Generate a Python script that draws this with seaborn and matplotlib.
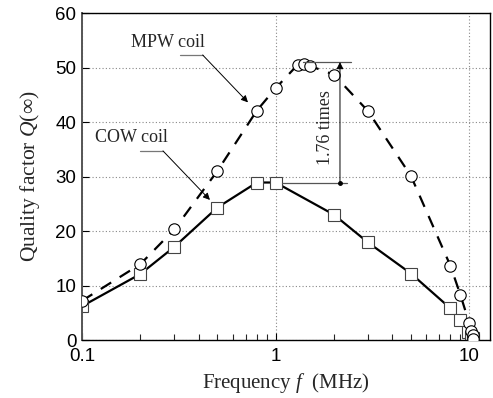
import numpy as np
import pandas as pd
import seaborn as sns
import matplotlib.pyplot as plt
import matplotlib.ticker as mtick

freq_mpw = [0.1, 0.2, 0.3, 0.5, 0.8, 1.0, 1.3, 1.4, 1.5, 2.0, 3.0, 5.0, 8.0, 9.0, 10.0, 10.2, 10.4, 10.5]
q_mpw = [7.2, 13.9, 20.3, 31.0, 42.1, 46.2, 50.5, 50.7, 50.3, 48.7, 42.0, 30.1, 13.6, 8.3, 3.1, 1.6, 0.9, 0.2]

freq_cow = [0.1, 0.2, 0.3, 0.5, 0.8, 1.0, 2.0, 3.0, 5.0, 8.0, 9.0, 9.9, 10.2, 10.4, 10.5]
q_cow = [6.2, 12.1, 17.1, 24.3, 28.9, 28.9, 23.0, 17.9, 12.2, 5.8, 3.7, 1.5, 0.6, 0.3, 0.0]

y_ticks = [0, 10, 20, 30, 40, 50, 60]
x_ticks = [0.1, 1, 10]
x_ticklabels = ["0.1", "1", "10"]

peak_mpw = 51.0
peak_cow = 28.9
ratio_label = "1.76 times"

df_mpw = pd.DataFrame({"f": freq_mpw, "Q": q_mpw})
df_cow = pd.DataFrame({"f": freq_cow, "Q": q_cow})

sns.set_style("ticks")
plt.rcParams["font.family"] = ["Liberation Sans", "DejaVu Sans"]
plt.rcParams["mathtext.fontset"] = "custom"
plt.rcParams["mathtext.rm"] = "Liberation Serif"
plt.rcParams["mathtext.it"] = "Liberation Serif:italic"

fig = plt.figure(figsize=(4.93, 3.98), dpi=100)
ax = fig.add_axes([0.1663, 0.1457, 0.8276, 0.8216])

sns.lineplot(data=df_mpw, x="f", y="Q", ax=ax, color="black", linewidth=1.6,
             linestyle=(0, (5.5, 4.5)), marker="o", markersize=8.2, markerfacecolor="white",
             markeredgecolor="black", markeredgewidth=0.8, zorder=3)
sns.lineplot(data=df_cow, x="f", y="Q", ax=ax, color="black", linewidth=1.6,
             marker="s", markersize=8.2, markerfacecolor="white",
             markeredgecolor="#444444", markeredgewidth=0.8, zorder=2)

ax.set_xscale("log")
ax.set_xlim(0.1, 12.8)
ax.set_ylim(0, 60)
ax.set_yticks(y_ticks)
ax.set_xticks(x_ticks)
ax.set_xticklabels(x_ticklabels)
ax.xaxis.set_minor_locator(mtick.LogLocator(base=10, subs=np.arange(2, 10)))
ax.xaxis.set_minor_formatter(mtick.NullFormatter())
ax.tick_params(axis="both", which="major", direction="in", length=5, width=0.8,
               labelsize=13.5, colors="black")
ax.tick_params(axis="x", which="major", pad=6)
ax.tick_params(axis="y", which="major", pad=4)
ax.tick_params(axis="x", which="minor", direction="in", length=4, width=0.8)
ax.grid(True, which="major", color="#888888", linestyle=(0, (1, 2)), linewidth=0.8)
for side in ["top", "right", "bottom"]:
    ax.spines[side].set_color("black")
    ax.spines[side].set_linewidth(1.0)
ax.spines["left"].set_color("#555555")
ax.spines["left"].set_linewidth(1.4)

ax.set_xlabel(r"Frequency $f$  (MHz)", family="Liberation Serif", fontsize=15, labelpad=4)
ax.set_ylabel(r"Quality factor $Q$(∞)", family="Liberation Serif", fontsize=15.5, labelpad=10)

# leader annotations
ax.text(0.278, 54.5, "MPW coil", family="Liberation Serif", fontsize=13, ha="center", va="center")
ax.plot([0.321, 0.42], [52.3, 52.3], color="#777777", lw=0.9, zorder=4)
ax.annotate("", xy=(0.72, 43.6), xytext=(0.42, 52.3),
            arrowprops=dict(arrowstyle="-|>", color="black", lw=0.7, mutation_scale=10,
                            shrinkA=0, shrinkB=0), zorder=4)

ax.text(0.181, 37.2, "COW coil", family="Liberation Serif", fontsize=13, ha="center", va="center")
ax.plot([0.199, 0.262], [34.7, 34.7], color="#777777", lw=0.9, zorder=4)
ax.annotate("", xy=(0.458, 25.7), xytext=(0.262, 34.7),
            arrowprops=dict(arrowstyle="-|>", color="black", lw=0.7, mutation_scale=10,
                            shrinkA=0, shrinkB=0), zorder=4)

# ratio marker
ax.plot([1.38, 2.46], [peak_mpw, peak_mpw], color="#555555", lw=0.9, zorder=4)
ax.plot([1.08, 2.35], [peak_cow, peak_cow], color="#555555", lw=0.9, zorder=4)
ax.annotate("", xy=(2.15, peak_mpw), xytext=(2.15, peak_cow),
            arrowprops=dict(arrowstyle="-|>", color="black", lw=0.7, mutation_scale=10,
                            shrinkA=0, shrinkB=0), zorder=4)
ax.plot([2.15], [peak_cow], marker="o", markersize=2.5, color="black", zorder=4)
ax.text(1.8, 39.0, ratio_label, family="Liberation Serif", fontsize=13, rotation=90,
        ha="center", va="center")

plt.savefig("out.png", dpi=100)
